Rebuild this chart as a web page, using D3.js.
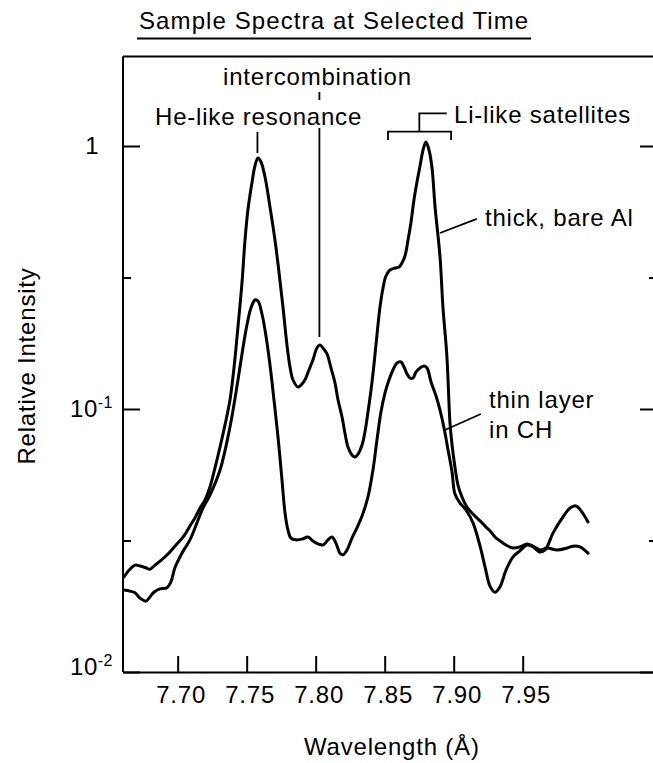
<!DOCTYPE html>
<html><head><meta charset="utf-8">
<script src="https://cdn.jsdelivr.net/npm/d3@7"></script>
<style>
html,body{margin:0;padding:0;background:#fff;}
svg{display:block;}
</style></head><body>
<svg id="chart" width="653" height="763"></svg>
<script>
// ---- data (wavelength in Å, relative intensity) ----
const thickWavelength = [7.6611,7.6654,7.6691,7.6727,7.6770,7.6799,7.6836,7.6872,7.6930,7.6988,7.7046,7.7089,7.7125,7.7162,7.7198,7.7234,7.7263,7.7307,7.7343,7.7379,7.7408,7.7437,7.7466,7.7488,7.7509,7.7538,7.7560,7.7582,7.7604,7.7633,7.7669,7.7705,7.7734,7.7763,7.7792,7.7814,7.7836,7.7872,7.7901,7.7922,7.7951,7.7980,7.8009,7.8031,7.8053,7.8082,7.8111,7.8140,7.8162,7.8191,7.8212,7.8234,7.8263,7.8285,7.8307,7.8336,7.8357,7.8379,7.8401,7.8422,7.8444,7.8466,7.8488,7.8509,7.8538,7.8575,7.8604,7.8625,7.8647,7.8669,7.8691,7.8712,7.8734,7.8756,7.8778,7.8799,7.8821,7.8843,7.8865,7.8901,7.8922,7.8951,7.8973,7.8988,7.9009,7.9031,7.9060,7.9096,7.9133,7.9169,7.9205,7.9241,7.9270,7.9299,7.9336,7.9379,7.9430,7.9480,7.9531,7.9575,7.9625,7.9676,7.9749,7.9821,7.9865,7.9915,7.9973];
const thickIntensity = [0.0230,0.0246,0.0255,0.0253,0.0249,0.0246,0.0255,0.0264,0.0281,0.0304,0.0329,0.0359,0.0385,0.0420,0.0451,0.0505,0.0576,0.0717,0.0870,0.1082,0.1432,0.2050,0.3014,0.4391,0.5710,0.7234,0.8395,0.9003,0.8695,0.7622,0.5862,0.4391,0.3318,0.2442,0.1751,0.1444,0.1289,0.1213,0.1245,0.1289,0.1407,0.1536,0.1706,0.1751,0.1706,0.1619,0.1432,0.1256,0.1082,0.0932,0.0810,0.0717,0.0669,0.0657,0.0674,0.0730,0.0818,0.0974,0.1181,0.1470,0.1911,0.2442,0.2885,0.3204,0.3376,0.3436,0.3466,0.3591,0.3817,0.4391,0.5140,0.6233,0.7298,0.8395,0.9656,1.0356,0.9656,0.8249,0.5862,0.3784,0.2442,0.1577,0.0885,0.0730,0.0602,0.0514,0.0463,0.0424,0.0402,0.0385,0.0369,0.0353,0.0341,0.0326,0.0315,0.0304,0.0296,0.0299,0.0307,0.0301,0.0291,0.0296,0.0291,0.0296,0.0301,0.0299,0.0283];

const thinWavelength = [7.6611,7.6654,7.6691,7.6727,7.6770,7.6799,7.6828,7.6872,7.6922,7.6951,7.6980,7.7031,7.7089,7.7140,7.7183,7.7234,7.7307,7.7379,7.7437,7.7473,7.7502,7.7531,7.7560,7.7582,7.7611,7.7640,7.7669,7.7698,7.7727,7.7756,7.7778,7.7799,7.7821,7.7857,7.7901,7.7944,7.7980,7.8017,7.8053,7.8089,7.8118,7.8147,7.8176,7.8198,7.8227,7.8263,7.8299,7.8336,7.8379,7.8415,7.8444,7.8473,7.8502,7.8531,7.8560,7.8589,7.8618,7.8640,7.8662,7.8683,7.8705,7.8727,7.8756,7.8785,7.8807,7.8836,7.8872,7.8901,7.8930,7.8959,7.8988,7.9009,7.9046,7.9089,7.9140,7.9191,7.9227,7.9263,7.9299,7.9336,7.9379,7.9430,7.9480,7.9531,7.9575,7.9625,7.9662,7.9720,7.9792,7.9843,7.9886,7.9923,7.9973];
const thinIntensity = [0.0205,0.0203,0.0200,0.0191,0.0186,0.0193,0.0201,0.0207,0.0209,0.0220,0.0249,0.0283,0.0318,0.0369,0.0420,0.0471,0.0586,0.0854,0.1289,0.1706,0.2086,0.2421,0.2597,0.2574,0.2297,0.1895,0.1470,0.1082,0.0783,0.0537,0.0402,0.0347,0.0323,0.0318,0.0320,0.0326,0.0315,0.0307,0.0304,0.0318,0.0326,0.0309,0.0283,0.0279,0.0291,0.0323,0.0353,0.0392,0.0463,0.0586,0.0762,0.0974,0.1150,0.1289,0.1407,0.1496,0.1509,0.1444,0.1359,0.1312,0.1312,0.1383,0.1432,0.1457,0.1432,0.1267,0.1121,0.0991,0.0847,0.0699,0.0576,0.0475,0.0439,0.0413,0.0369,0.0301,0.0251,0.0212,0.0201,0.0211,0.0244,0.0274,0.0289,0.0304,0.0299,0.0286,0.0291,0.0338,0.0389,0.0420,0.0428,0.0410,0.0372];

const xDomain = [7.6604, 8.0473];
const xTickValues = [7.70, 7.75, 7.80, 7.85, 7.90, 7.95];
const xTickLabels = ["7.70", "7.75", "7.80", "7.85", "7.90", "7.95"];
const yDomain = [0.01, 1];
const yMajorTicks = [1, 0.1, 0.01];
const yMajorBases = ["1", "10", "10"];
const yMajorExponents = ["", "-1", "-2"];
const yMinorTicks = [0.3162, 0.03162];

// annotation anchors (wavelengths / intensities)
const heResonanceWl = 7.7578;
const intercombWl = 7.8027;
const liBracketWl = [7.8524, 7.8981];
const liStemWl = [7.8751, 7.8950];
const thickLeader = [[7.8901, 0.467], [7.9167, 0.528]];
const thinLeader = [[7.8937, 0.0832], [7.9196, 0.0957]];

// ---- drawing ----
const FONT = '"Liberation Sans", Arial, Helvetica, sans-serif';
const svg = d3.select("#chart");
const x = d3.scaleLinear().domain(xDomain).range([123, 657]);
const y = d3.scaleLog().domain(yDomain).range([672, 146]);
const plotTop = 56.5;
const x0 = x.range()[0], x1 = x.range()[1], yb = y.range()[0];

// frame
const frame = svg.append("g").attr("stroke", "#000").attr("stroke-width", 2).attr("fill", "none");
frame.append("path").attr("d", `M${x0},${plotTop}V${yb}`);
frame.append("path").attr("d", `M${x0},${plotTop}H${x1}`);

// bottom axis
const gx = svg.append("g").attr("transform", `translate(0,${yb})`)
  .call(d3.axisBottom(x).tickValues(xTickValues).tickFormat((d, i) => xTickLabels[i])
    .tickSizeInner(-16).tickSizeOuter(0).tickPadding(14));
gx.select(".domain").attr("stroke-width", 2);
gx.selectAll(".tick line").attr("stroke-width", 2);
gx.selectAll(".tick text").attr("font-size", 24).attr("font-family", FONT)
  .attr("letter-spacing", "0.8px").attr("dx", 3).attr("fill", "#000");

// y axes (left & right, major & minor)
function yAxis(gen, tx) {
  const g = svg.append("g").attr("transform", `translate(${tx},0)`).call(gen);
  g.select(".domain").remove();
  g.selectAll(".tick line").attr("stroke-width", 2);
  return g;
}
const gyl = yAxis(d3.axisLeft(y).tickValues(yMajorTicks).tickSizeInner(-17).tickSizeOuter(0).tickPadding(10).tickFormat(""), x0);
yAxis(d3.axisLeft(y).tickValues(yMinorTicks).tickSizeInner(-8).tickSizeOuter(0).tickFormat(""), x0);
yAxis(d3.axisRight(y).tickValues(yMajorTicks).tickSizeInner(-17).tickSizeOuter(0).tickFormat(""), x1);
yAxis(d3.axisRight(y).tickValues(yMinorTicks).tickSizeInner(-8).tickSizeOuter(0).tickFormat(""), x1);

gyl.selectAll(".tick text").each(function (d, i) {
  const t = d3.select(this).attr("font-size", 24).attr("font-family", FONT)
    .attr("letter-spacing", "0.5px").attr("fill", "#000");
  t.text(null);
  t.append("tspan").text(yMajorBases[i]);
  if (yMajorExponents[i] === "") {
    t.attr("dx", -14);
  } else {
    t.append("tspan").attr("font-size", 16).attr("dy", -9).text(yMajorExponents[i]);
  }
  if (i === yMajorTicks.length - 1) t.attr("y", -5);
});

// curves
const line = d3.line().x(d => x(d[0])).y(d => y(d[1])).curve(d3.curveCatmullRom.alpha(0.5));
svg.append("path").datum(d3.zip(thickWavelength, thickIntensity))
  .attr("d", line).attr("fill", "none").attr("stroke", "#000").attr("stroke-width", 3)
  .attr("stroke-linejoin", "round").attr("stroke-linecap", "round");
svg.append("path").datum(d3.zip(thinWavelength, thinIntensity))
  .attr("d", line).attr("fill", "none").attr("stroke", "#000").attr("stroke-width", 3)
  .attr("stroke-linejoin", "round").attr("stroke-linecap", "round");

// annotation lines
const ann = svg.append("g").attr("stroke", "#000").attr("stroke-width", 1.8).attr("fill", "none");
ann.append("path").attr("d", `M${x(heResonanceWl)},132V153`);
ann.append("path").attr("d", `M${x(intercombWl)},92V100`);
ann.append("path").attr("d", `M${x(intercombWl)},128V337`);
ann.append("path").attr("d", `M${x(liBracketWl[0])},140V131.7H${x(liBracketWl[1])}V140`);
ann.append("path").attr("d", `M${x(liStemWl[0])},131.7V113.3H${x(liStemWl[1])}`);
ann.append("path").attr("d", d3.line().x(d => x(d[0])).y(d => y(d[1]))(thickLeader));
ann.append("path").attr("d", d3.line().x(d => x(d[0])).y(d => y(d[1]))(thinLeader));

// texts
const txt = svg.append("g").attr("font-family", FONT).attr("font-size", 24)
  .attr("letter-spacing", "0.8px").attr("fill", "#000");
txt.append("text").attr("x", 139).attr("y", 28.5).attr("letter-spacing", "1.1px").text("Sample Spectra at Selected Time");
svg.append("path").attr("d", "M137,38.5H531").attr("stroke", "#000").attr("stroke-width", 2);
txt.append("text").attr("x", 223).attr("y", 85).text("intercombination");
txt.append("text").attr("x", 155).attr("y", 125).text("He-like resonance");
txt.append("text").attr("x", 454).attr("y", 123).text("Li-like satellites");
txt.append("text").attr("x", 485).attr("y", 226).text("thick, bare Al");
txt.append("text").attr("x", 489).attr("y", 408).text("thin layer");
txt.append("text").attr("x", 489).attr("y", 438).text("in CH");
txt.append("text").attr("x", 304).attr("y", 755).text("Wavelength (Å)");
txt.append("text").attr("transform", "translate(35,366) rotate(-90)").attr("text-anchor", "middle").text("Relative Intensity");
</script>
</body></html>
